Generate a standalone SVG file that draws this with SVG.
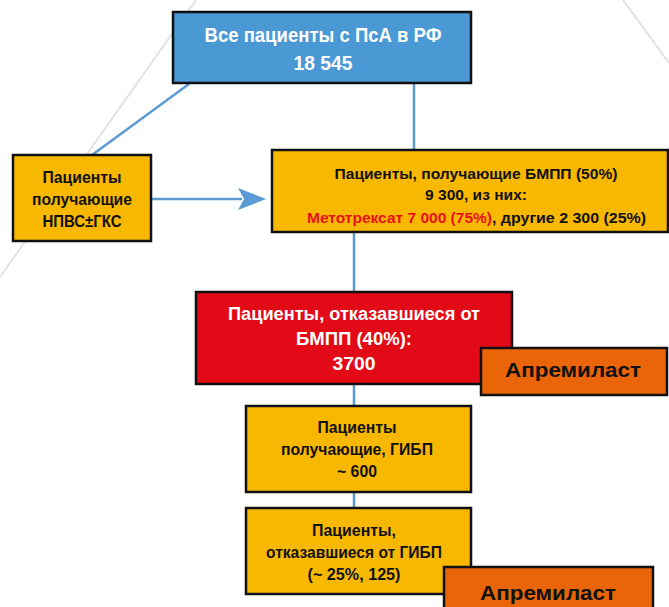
<svg xmlns="http://www.w3.org/2000/svg" width="669" height="607" viewBox="0 0 669 607">
<style>
  .box { stroke: #111; stroke-width: 2.5; }
  .blue { fill: #4A98D4; }
  .yel { fill: #F9B800; }
  .red { fill: #E30A17; }
  .org { fill: #EA6508; }
  text { font-family: "Liberation Sans", Arial, sans-serif; font-weight: bold; }
  .w { fill: #FFFFFF; }
  .k { fill: #111111; }
  .r { fill: #E8101C; }
  .c { text-anchor: middle; }
  .conn { stroke: #5B9BD5; stroke-width: 2.5; fill: none; }
  .bg { stroke: #E2E2E2; stroke-width: 2; fill: none; }
</style>
<rect x="0" y="0" width="669" height="607" fill="#FFFFFF"/>
<g id="background">
  <line class="bg" x1="196" y1="0" x2="0" y2="277"/>
  <line class="bg" x1="623" y1="0" x2="669" y2="63"/>
</g>
<g id="connectors">
  <line class="conn" x1="189" y1="84" x2="92" y2="155"/>
  <line class="conn" x1="414" y1="84" x2="414" y2="151"/>
  <line class="conn" x1="152" y1="199" x2="242" y2="199"/>
  <polygon fill="#5B9BD5" points="266,199 238,188 244,199 238,210"/>
  <line class="conn" x1="354" y1="232" x2="354" y2="292"/>
  <line class="conn" x1="354" y1="384" x2="354" y2="406"/>
  <line class="conn" x1="354" y1="492" x2="354" y2="508"/>
</g>
<g id="node-all">
  <rect class="box blue" x="173" y="12" width="298" height="71"/>
  <text class="w c" x="323" y="42" font-size="21" textLength="237" lengthAdjust="spacingAndGlyphs">Все пациенты с ПсА в РФ</text>
  <text class="w c" x="323" y="70" font-size="21" textLength="59" lengthAdjust="spacingAndGlyphs">18 545</text>
</g>
<g id="node-nsaid">
  <rect class="box yel" x="13" y="155" width="138" height="86"/>
  <text class="k c" x="82" y="183" font-size="17" textLength="79" lengthAdjust="spacingAndGlyphs">Пациенты</text>
  <text class="k c" x="82" y="205" font-size="17" textLength="100" lengthAdjust="spacingAndGlyphs">получающие</text>
  <text class="k c" x="82" y="227" font-size="17" textLength="79" lengthAdjust="spacingAndGlyphs">НПВС±ГКС</text>
</g>
<g id="node-bmpp">
  <rect class="box yel" x="272" y="150" width="396" height="82"/>
  <text class="k c" x="476" y="179" font-size="15.5" textLength="283" lengthAdjust="spacingAndGlyphs">Пациенты, получающие БМПП (50%)</text>
  <text class="k c" x="476" y="200" font-size="15.5" textLength="102" lengthAdjust="spacingAndGlyphs">9 300, из них:</text>
  <text class="r" x="307" y="223" font-size="15.5" textLength="185" lengthAdjust="spacingAndGlyphs">Метотрексат 7 000 (75%)</text>
  <text class="k" x="492" y="223" font-size="15.5" textLength="154" lengthAdjust="spacingAndGlyphs">, другие 2 300 (25%)</text>
</g>
<g id="node-refused-bmpp">
  <rect class="box red" x="196" y="292" width="316" height="92"/>
  <text class="w c" x="354" y="320" font-size="18" textLength="252" lengthAdjust="spacingAndGlyphs">Пациенты, отказавшиеся от</text>
  <text class="w c" x="354" y="345" font-size="18" textLength="116" lengthAdjust="spacingAndGlyphs">БМПП (40%):</text>
  <text class="w c" x="354" y="370" font-size="18" textLength="43" lengthAdjust="spacingAndGlyphs">3700</text>
</g>
<g id="node-apremilast-1">
  <rect class="box org" x="481" y="348" width="186" height="47"/>
  <text class="k c" x="573" y="377" font-size="21" textLength="136" lengthAdjust="spacingAndGlyphs">Апремиласт</text>
</g>
<g id="node-gibp">
  <rect class="box yel" x="246" y="406" width="225" height="86"/>
  <text class="k c" x="357" y="433" font-size="16.3" textLength="79" lengthAdjust="spacingAndGlyphs">Пациенты</text>
  <text class="k c" x="357" y="455" font-size="16.3" textLength="152" lengthAdjust="spacingAndGlyphs">получающие, ГИБП</text>
  <text class="k c" x="357" y="477" font-size="16.3" textLength="40" lengthAdjust="spacingAndGlyphs">~ 600</text>
</g>
<g id="node-refused-gibp">
  <rect class="box yel" x="246" y="508" width="225" height="86"/>
  <text class="k c" x="354" y="536" font-size="16.3" textLength="84" lengthAdjust="spacingAndGlyphs">Пациенты,</text>
  <text class="k c" x="354" y="558" font-size="16.3" textLength="176" lengthAdjust="spacingAndGlyphs">отказавшиеся от ГИБП</text>
  <text class="k c" x="354" y="580" font-size="16.3" textLength="93" lengthAdjust="spacingAndGlyphs">(~ 25%, 125)</text>
</g>
<g id="node-apremilast-2">
  <rect class="box org" x="444" y="567" width="209" height="48"/>
  <text class="k c" x="548" y="600" font-size="21" textLength="136" lengthAdjust="spacingAndGlyphs">Апремиласт</text>
</g>
</svg>
